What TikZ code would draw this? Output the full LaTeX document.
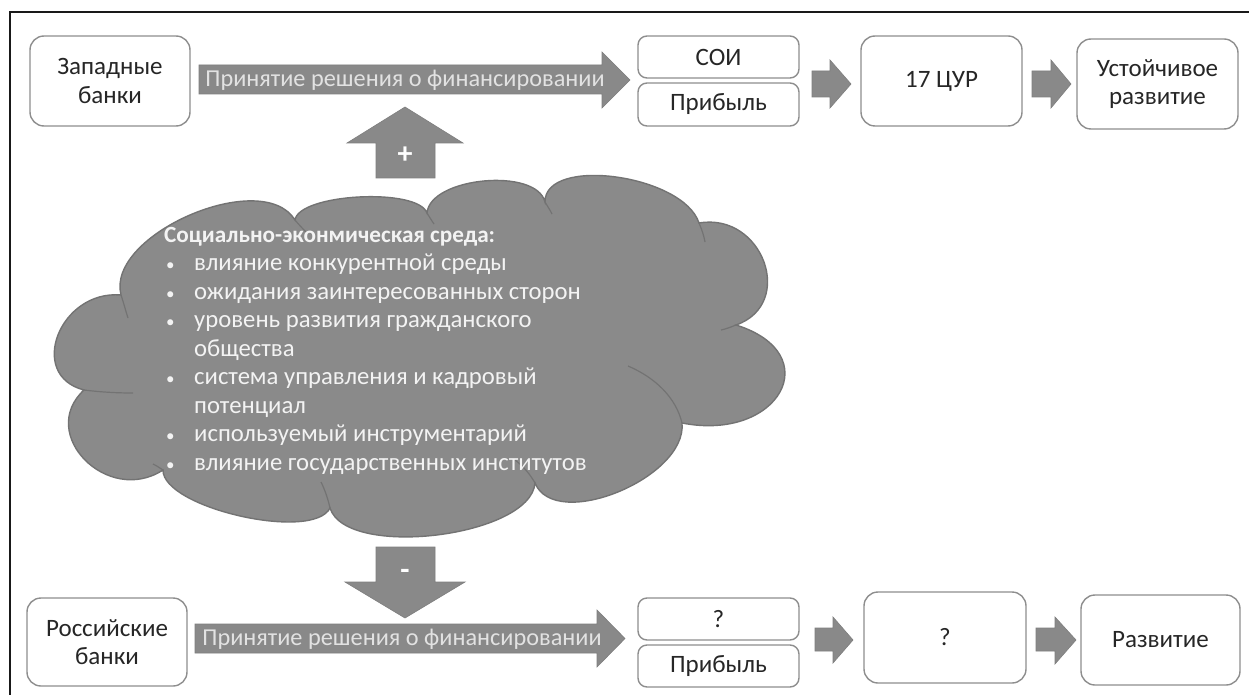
\documentclass[tikz,border=0pt]{standalone}
\usepackage{fontspec}
\setmainfont{Carlito}
\usetikzlibrary{calc}
\definecolor{arrowfill}{HTML}{898989}
\definecolor{arrowedge}{HTML}{7E7E7E}
\definecolor{cloudfill}{HTML}{8A8A8A}
\definecolor{cloudedge}{HTML}{737373}
\definecolor{boxedge}{HTML}{8E8E8E}
\definecolor{textdark}{HTML}{262626}
\definecolor{arrowtext}{HTML}{E2E2E2}
\definecolor{cloudtext}{HTML}{F3F3F3}
\newcommand{\cbul}{\makebox[30pt][l]{\hspace*{2pt}\fontsize{17}{17}\selectfont •}}
\newcommand{\cind}{\hspace*{30pt}}
\tikzset{
  bigbox/.style={draw=boxedge, line width=1.4pt, rounded corners=14pt, fill=white,
    align=center, text=textdark, inner sep=0pt,
    font=\fontsize{25}{28.5}\selectfont},
  smallbox/.style={bigbox, rounded corners=9pt},
  blockarrow/.style={fill=arrowfill, draw=arrowedge, line width=0.6pt},
  arrowlabel/.style={text=arrowtext, inner sep=0pt, font=\fontsize{24.3}{28}\selectfont},
  signlabel/.style={text=white, inner sep=0pt, font=\bfseries\fontsize{30}{30}\selectfont},
  envlist/.style={text=cloudtext, inner sep=0pt, align=left,
    font=\fontsize{24.7}{28.5}\selectfont},
  frameline/.style={draw=black!90, line width=2pt},
  cloudshape/.style={fill=cloudfill, draw=cloudedge, line width=1.4pt},
  innerarc/.style={draw=cloudedge, line width=1.2pt},
  lobe/.style n args={3}{insert path={ .. controls
     ($0.2833*(#1)+1.3333*(#2)-0.6167*(#3)$) and
     ($0.2833*(#3)+1.3333*(#2)-0.6167*(#1)$) .. (#3)}}
}
\begin{document}
\begin{tikzpicture}[x=1pt,y=-1pt]
\useasboundingbox (0,0) rectangle (1249,695);
\fill[white] (0,0) rectangle (1249,695);
\draw[frameline] (1252,12) -- (9.5,12) -- (9.5,698);

% cloud outline made of lobes
\path[cloudshape] (121,295)
  [lobe={121,295}{190,215}{295,220}]
  [lobe={295,220}{359,197}{427,213}]
  [lobe={427,213}{484,181}{545,202}]
  [lobe={545,202}{616,177}{699,223}]
  [lobe={699,223}{764,262}{736,325}]
  [lobe={736,325}{780,392}{682,423}]
  [lobe={682,423}{618,492}{535,483}]
  [lobe={535,483}{437,535}{330,508}]
  [lobe={330,508}{240,516}{163,470}]
  [lobe={163,470}{85,460}{84,390}]
  [lobe={84,390}{58,335}{121,295}] -- cycle;
% inner arcs of the cloud
\draw[innerarc] (121,295) .. controls (124,304) and (126,312) .. (128,318);
\draw[innerarc] (295,220) .. controls (300,226) and (304,230) .. (308,234);
\draw[innerarc] (427,213) .. controls (430,218) and (432,221) .. (434,224);
\draw[innerarc] (545,202) .. controls (548,207) and (550,210) .. (552,214);
\draw[innerarc] (699,223) .. controls (702,230) and (704,236) .. (705,242);
\draw[innerarc] (736,325) .. controls (731,327) and (726,329) .. (721,330);
\draw[innerarc] (682,423) .. controls (676,398) and (656,378) .. (628,366);
\draw[innerarc] (535,483) .. controls (530,474) and (523,466) .. (515,460);
\draw[innerarc] (330,508) .. controls (328,499) and (325,490) .. (321,482);
\draw[innerarc] (163,470) .. controls (160,468) and (157,466) .. (153,464);
\draw[innerarc] (84,390) .. controls (100,392) and (116,393) .. (133,393);

\node[envlist, anchor=north west] (env) at (164,227)
 {{\bfseries\fontsize{23.2}{28.5}\selectfont Социально-эконмическая среда:}\\
  \cbul влияние конкурентной среды\\
  \cbul ожидания заинтересованных сторон\\
  \cbul уровень развития гражданского\\
  \cind общества\\
  \cbul система управления и кадровый\\
  \cind потенциал\\
  \cbul используемый инструментарий\\
  \cbul влияние государственных институтов};

% boxes, top row
\node[bigbox, minimum width=160pt, minimum height=90pt] (west) at (110,81) {Западные\\банки};
\node[smallbox, minimum width=161pt, minimum height=42pt] (soi) at (718.5,57) {СОИ};
\node[smallbox, minimum width=161pt, minimum height=43pt] (profit1) at (718.5,104.5) {Прибыль};
\node[bigbox, minimum width=161pt, minimum height=90pt] (sdg) at (941.5,81) {17 ЦУР};
\node[bigbox, minimum width=161pt, minimum height=90pt] (sust) at (1157.5,84) {Устойчивое\\развитие};

% boxes, bottom row
\node[bigbox, minimum width=160pt, minimum height=88pt] (rus) at (107,642) {Российские\\банки};
\node[smallbox, minimum width=161pt, minimum height=42pt] (q1) at (718.5,619) {?};
\node[smallbox, minimum width=161pt, minimum height=42pt] (profit2) at (718.5,666) {Прибыль};
\node[bigbox, minimum width=162pt, minimum height=91pt] (q2) at (945,637.5) {?};
\node[bigbox, minimum width=159pt, minimum height=90pt] (dev) at (1160.5,640) {Развитие};

% block arrows
\filldraw[blockarrow] (199,65) -- (602,65) -- (602,52) -- (630,80) -- (602,108) -- (602,94) -- (199,94) -- cycle;
\filldraw[blockarrow] (195,624) -- (597,624) -- (597,610) -- (625,638.5) -- (597,667) -- (597,653) -- (195,653) -- cycle;
\filldraw[blockarrow] (376,178) -- (376,143) -- (347,143) -- (405,107) -- (463,143) -- (435,143) -- (435,178) -- cycle;
\filldraw[blockarrow] (376,547) -- (435,547) -- (435,582) -- (465,582) -- (405,618) -- (345,582) -- (376,582) -- cycle;
\filldraw[blockarrow] (812,71) -- (830,71) -- (830,60) -- (851,84) -- (830,108) -- (830,97) -- (812,97) -- cycle;
\filldraw[blockarrow] (1032,71) -- (1051,71) -- (1051,60) -- (1071,84) -- (1051,108) -- (1051,97) -- (1032,97) -- cycle;
\filldraw[blockarrow] (815,628) -- (833,628) -- (833,617) -- (853,640) -- (833,663) -- (833,651) -- (815,651) -- cycle;
\filldraw[blockarrow] (1036,628) -- (1055,628) -- (1055,617) -- (1076,640) -- (1055,664) -- (1055,651) -- (1036,651) -- cycle;

\node[arrowlabel] (topdecision) at (405,80) {Принятие решения о финансировании};
\node[arrowlabel] (botdecision) at (402,639) {Принятие решения о финансировании};
\node[signlabel] (plus) at (405,155) {+};
\node[signlabel] (minus) at (405,574) {-};
\end{tikzpicture}
\end{document}
